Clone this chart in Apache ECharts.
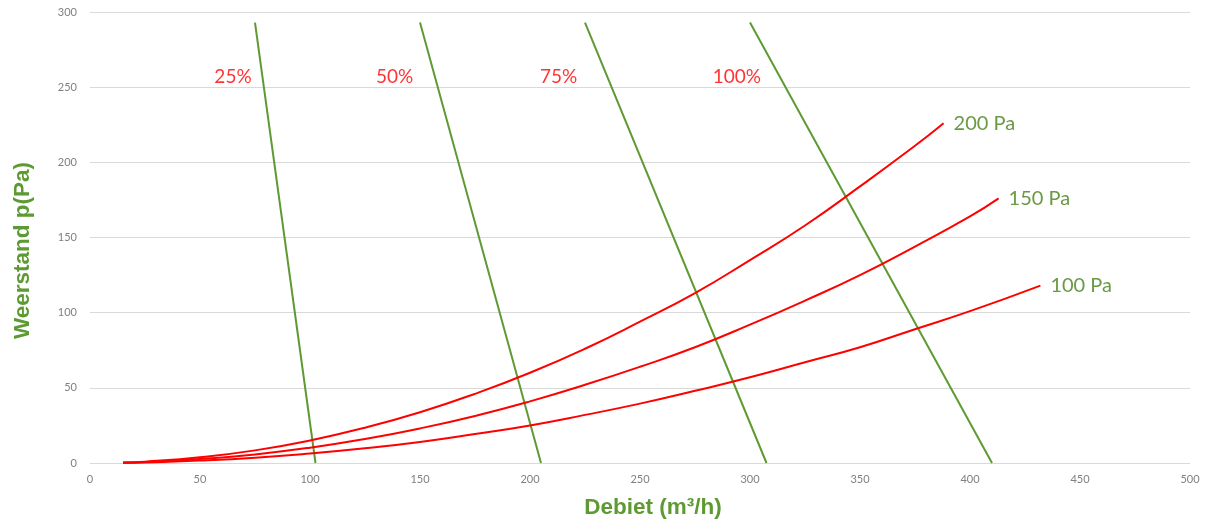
<!DOCTYPE html>
<html>
<head>
<meta charset="utf-8">
<script src="https://cdn.jsdelivr.net/npm/echarts@6/dist/echarts.min.js"></script>
<style>html,body{margin:0;padding:0;background:#fff}#c{width:1207px;height:524px}</style>
</head>
<body>
<div id="c"></div>
<script>
// Pressure curves (flow m³/h, resistance Pa)
const curveNames = ['200 Pa', '150 Pa', '100 Pa'];
const curve200 = [[15,0.3],[25,0.9],[50,3.8],[75,8.4],[100,15],[125,23.5],[150,33.8],[175,46],[200,60],[225,76],[250,94],[275,113],[300,135],[325,158],[350,184],[375,211],[388,226]];
const curve150 = [[15,0.2],[25,0.6],[50,2.6],[75,5.7],[100,10.2],[125,16],[150,23],[175,31.3],[200,41],[225,52],[250,64],[275,77],[300,92],[325,108],[350,125],[375,144],[400,164],[413,176]];
const curve100 = [[15,0.1],[25,0.4],[50,1.6],[75,3.5],[100,6.3],[125,9.8],[150,14],[175,19.3],[200,25],[225,32],[250,39.5],[275,48],[300,57],[325,67],[350,77],[375,89],[400,101],[432,118]];
// Fan lines (percent settings)
const fanNames = ['25%', '50%', '75%', '100%'];
const fan25 = [[75,293],[102.5,0]];
const fan50 = [[150,293],[205,0]];
const fan75 = [[225,293],[307.5,0]];
const fan100 = [[300,293],[410,0]];
const fanLabelPos = [[65,257],[138.5,257],[213,257],[294,257]];
// Axis ticks
const xTicks = [0,50,100,150,200,250,300,350,400,450,500];
const yTicks = [0,50,100,150,200,250,300];

const RED = '#ff0000';
const GREEN = '#5e9a33';
const LABEL_GREEN = '#6a9a45';
const curves = [curve200, curve150, curve100];
const fans = [fan25, fan50, fan75, fan100];

const series = [];
fans.forEach((d, i) => {
  series.push({
    name: fanNames[i], type: 'line', data: d, symbol: 'none', silent: true,
    lineStyle: { color: GREEN, width: 2 }
  });
});
curves.forEach((d, i) => {
  series.push({
    name: curveNames[i], type: 'line', data: d, symbol: 'none', smooth: true, silent: true,
    lineStyle: { color: RED, width: 2 },
    endLabel: { show: true, formatter: curveNames[i], color: LABEL_GREEN, fontSize: 20,
      fontFamily: 'Lato', distance: 10 }
  });
});
series.push({
  type: 'scatter', symbolSize: 0, silent: true,
  data: fanLabelPos.map((p, i) => ({ value: p, name: fanNames[i] })),
  label: { show: true, position: 'inside', formatter: p => p.name, color: RED, fontSize: 19, fontFamily: 'Lato' }
});

const chart = echarts.init(document.getElementById('c'));
chart.setOption({
  animation: false,
  grid: { left: 90, right: 17, top: 12, bottom: 60 },
  xAxis: {
    type: 'value', min: xTicks[0], max: xTicks[xTicks.length-1], interval: 50,
    name: 'Debiet (m³/h)', nameLocation: 'middle', nameGap: 33,
    nameTextStyle: { color: GREEN, fontSize: 22.5, fontWeight: 'bold', fontFamily: 'Liberation Sans', padding: [0, 0, 0, 26] },
    axisLine: { show: false }, axisTick: { show: false }, splitLine: { show: false },
    axisLabel: { color: '#808080', fontSize: 11, margin: 11, fontFamily: 'Lato' }
  },
  yAxis: {
    type: 'value', min: yTicks[0], max: yTicks[yTicks.length-1], interval: 50,
    name: 'Weerstand p(Pa)', nameLocation: 'middle', nameGap: 56, nameRotate: 90,
    nameTextStyle: { color: GREEN, fontSize: 22.5, fontWeight: 'bold', fontFamily: 'Liberation Sans', padding: [0, 26, 0, 0] },
    axisLine: { show: false }, axisTick: { show: false },
    splitLine: { lineStyle: { color: '#d9d9d9', width: 1 } },
    axisLabel: { color: '#808080', fontSize: 11, margin: 13, fontFamily: 'Lato' }
  },
  series: series
});
</script>
</body>
</html>
